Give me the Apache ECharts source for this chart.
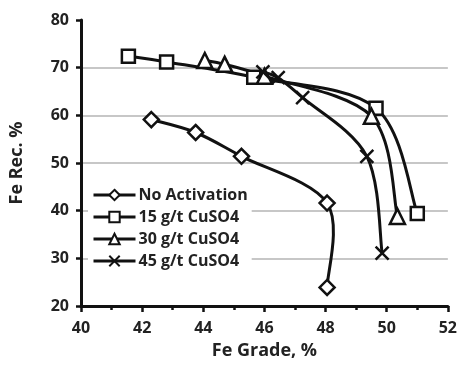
<!DOCTYPE html>
<html>
<head>
<meta charset="utf-8">
<script src="https://cdn.jsdelivr.net/npm/echarts@6/dist/echarts.min.js"></script>
<style>html,body{margin:0;padding:0;background:#fff}#c{width:460px;height:368px}</style>
</head>
<body>
<div id="c"></div>
<script>
const seriesNames = ['No Activation', '15 g/t CuSO4', '30 g/t CuSO4', '45 g/t CuSO4'];
const noActX = [42.3, 43.75, 45.25, 48.05, 48.05];
const noActY = [59.1, 56.4, 51.4, 41.6, 23.9];
const cu15X = [41.55, 42.8, 45.65, 49.65, 51.0];
const cu15Y = [72.4, 71.2, 68.0, 61.5, 39.4];
const cu30X = [44.05, 44.7, 46.0, 49.5, 50.35];
const cu30Y = [71.5, 70.7, 68.2, 59.8, 38.8];
const cu45X = [45.95, 46.45, 47.25, 49.35, 49.85];
const cu45Y = [69.1, 67.9, 63.7, 51.4, 31.1];

const font = 'Open Sans';
const crossPath = 'path://M0,0L10,10M10,0L0,10';
function pairs(xs, ys) { return xs.map((x, i) => [x, ys[i]]); }

// symbols (and legend entry) drawn by line series; line itself hidden
function mk(name, xs, ys, symbol, size) {
  return {
    name: name, type: 'line', data: pairs(xs, ys),
    symbol: symbol, symbolSize: size, showAllSymbol: true,
    lineStyle: { color: '#111', width: 3, opacity: 0 },
    itemStyle: { color: '#fff', borderColor: '#111', borderWidth: 2.5 },
    emphasis: { disabled: true }, z: 5
  };
}
// smooth curve through the same data points (Excel-like Catmull-Rom), via axis coords
function curve(xs, ys) {
  return {
    type: 'custom', data: pairs(xs, ys), z: 3, silent: true,
    renderItem: function (params, api) {
      if (params.dataIndex !== 0) return null;
      const p = xs.map((x, i) => api.coord([x, ys[i]]));
      const n = p.length, children = [];
      for (let i = 0; i < n - 1; i++) {
        const p0 = p[Math.max(i - 1, 0)], p1 = p[i], p2 = p[i + 1], p3 = p[Math.min(i + 2, n - 1)];
        const t = 1 / 6;
        children.push({
          type: 'bezierCurve',
          shape: {
            x1: p1[0], y1: p1[1], x2: p2[0], y2: p2[1],
            cpx1: p1[0] + (p2[0] - p0[0]) * t, cpy1: p1[1] + (p2[1] - p0[1]) * t,
            cpx2: p2[0] - (p3[0] - p1[0]) * t, cpy2: p2[1] - (p3[1] - p1[1]) * t
          },
          style: { stroke: '#111', lineWidth: 3, fill: null, lineCap: 'round' }
        });
      }
      return { type: 'group', children: children };
    }
  };
}
const chart = echarts.init(document.getElementById('c'), null, { renderer: 'canvas' });
chart.setOption({
  animation: false,
  backgroundColor: '#fff',
  grid: { left: 78, right: 12, top: 20, bottom: 62 },
  xAxis: {
    type: 'value', min: 40, max: 52, interval: 2,
    name: 'Fe Grade, %', nameLocation: 'middle', nameGap: 36,
    nameTextStyle: { fontFamily: font, fontWeight: 'bold', fontSize: 18, color: '#222' },
    axisLine: { show: true, onZero: false, lineStyle: { color: '#111', width: 3 } },
    axisTick: { show: true, length: 6, lineStyle: { color: '#111', width: 2.5 } },
    minorTick: { show: true, splitNumber: 2, length: 4, lineStyle: { color: '#111', width: 2.5 } },
    axisLabel: { fontFamily: font, fontWeight: 'bold', fontSize: 16, color: '#222', margin: 14 },
    splitLine: { show: false }
  },
  yAxis: {
    type: 'value', min: 20, max: 80, interval: 10,
    name: 'Fe Rec. %', nameLocation: 'middle', nameGap: 55,
    nameTextStyle: { fontFamily: font, fontWeight: 'bold', fontSize: 18, color: '#222' },
    axisLine: { show: true, onZero: false, lineStyle: { color: '#111', width: 3 } },
    axisTick: { show: true, length: 5, lineStyle: { color: '#111', width: 2.5 } },
    axisLabel: { fontFamily: font, fontWeight: 'bold', fontSize: 16, color: '#222', margin: 12 },
    splitLine: { show: true, showMinLine: false, showMaxLine: false, lineStyle: { color: '#b4b4b4', width: 1.5 } }
  },
  legend: {
    orient: 'vertical', left: 88, top: 185,
    data: seriesNames,
    itemWidth: 42, itemHeight: 13, itemGap: 6,
    backgroundColor: '#fff', padding: [2, 4, 2, 4],
    lineStyle: { color: '#111', width: 3, opacity: 1 },
    textStyle: { fontFamily: font, fontWeight: 'bold', fontSize: 16, color: '#222', padding: [0, 0, 0, -2] },
    selectedMode: false
  },
  series: [
    curve(noActX, noActY), curve(cu15X, cu15Y), curve(cu30X, cu30Y), curve(cu45X, cu45Y),
    mk(seriesNames[0], noActX, noActY, 'diamond', 15),
    mk(seriesNames[1], cu15X, cu15Y, 'rect', 13),
    mk(seriesNames[2], cu30X, cu30Y, 'triangle', 15),
    mk(seriesNames[3], cu45X, cu45Y, crossPath, 13)
  ]
});
</script>
</body>
</html>
